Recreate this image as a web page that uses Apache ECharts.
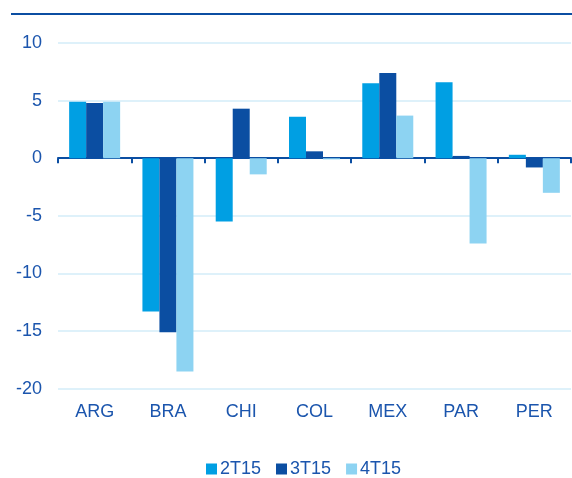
<!DOCTYPE html>
<html><head><meta charset="utf-8">
<script src="https://cdn.jsdelivr.net/npm/echarts@6/dist/echarts.min.js"></script>
<style>html,body{margin:0;padding:0;background:#fff}#c{width:572px;height:478px}</style>
</head><body><div id="c"></div>
<script>
const categories = ['ARG','BRA','CHI','COL','MEX','PAR','PER'];
const s2T15 = [4.9, -13.3, -5.5, 3.6, 6.5, 6.6, 0.3];
const s3T15 = [4.8, -15.1, 4.3, 0.6, 7.4, 0.2, -0.8];
const s4T15 = [4.9, -18.5, -1.4, -0.1, 3.7, -7.4, -3.0];
const seriesNames = ['2T15','3T15','4T15'];
const colors = ['#009fe3','#0b4ea2','#8dd3f2'];
const textColor = '#1b55ad';
const font = 'Liberation Sans, Arial, sans-serif';

const chart = echarts.init(document.getElementById('c'), null, {renderer:'canvas'});
const mk = (name, data, i) => ({
  name, type:'bar', data, xAxisIndex:0, barWidth:17, barGap:'0%',
  itemStyle:{color:colors[i]}
});
chart.setOption({
  animation:false,
  color: colors,
  grid:{left:58, right:1, top:43, bottom:89.3},
  graphic:[{type:'rect', shape:{x:11,y:13,width:561,height:2}, style:{fill:'#0b4ea2'}}],
  legend:{
    top:455, left:201, itemWidth:11, itemHeight:11, itemGap:15,
    icon:'rect', data:seriesNames,
    textStyle:{color:textColor, fontSize:18, fontFamily:font, padding:[0,0,0,-2]}
  },
  xAxis:[
    {type:'category', data:categories, position:'bottom',
     axisLine:{show:false, onZero:false}, axisTick:{show:false},
     axisLabel:{color:textColor, fontSize:18, fontFamily:font, margin:14}},
    {type:'category', data:categories, position:'bottom',
     axisLine:{show:true, onZero:true, lineStyle:{color:'#0b4ea2', width:2}},
     axisTick:{show:true, length:5, lineStyle:{color:'#0b4ea2', width:2}},
     axisLabel:{show:false}}
  ],
  yAxis:{type:'value', min:-20, max:10, interval:5,
    axisLine:{show:false}, axisTick:{show:false},
    splitLine:{lineStyle:{color:'#d3ecf8', width:1.5}},
    axisLabel:{color:textColor, fontSize:18, fontFamily:font, margin:16}},
  series:[mk(seriesNames[0], s2T15, 0), mk(seriesNames[1], s3T15, 1), mk(seriesNames[2], s4T15, 2)]
});
</script></body></html>
